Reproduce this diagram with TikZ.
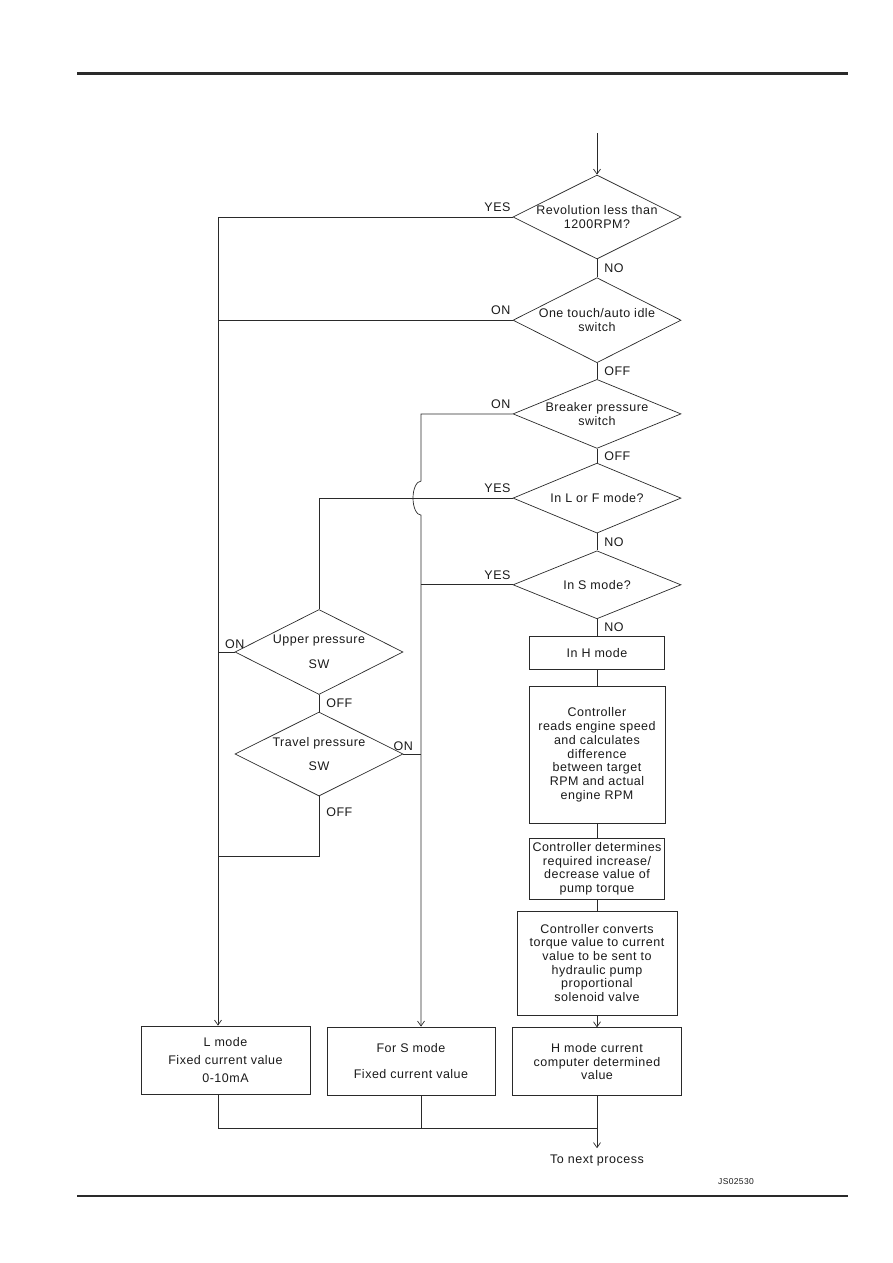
\documentclass[tikz,border=0pt]{standalone}
\usepackage{fontspec}
\setmainfont[LetterSpace=4]{Liberation Sans}
\usetikzlibrary{arrows.meta, positioning, shapes.geometric, calc}
\definecolor{lineDark}{HTML}{2A2A2A}
\definecolor{textDark}{HTML}{1A1A1A}
\tikzset{
  arrowK/.style={-{Straight Barb[length=5pt, width=7pt]}, draw=lineDark, line width=0.7pt},
  lineK/.style={draw=lineDark, line width=0.7pt},
  boxA/.style={rectangle, draw=lineDark, line width=0.8pt, align=center,
               inner sep=0pt, text=textDark},
  diaA/.style={diamond, aspect=2, draw=lineDark, line width=0.7pt, align=center,
               inner xsep=-20pt, inner ysep=0pt, minimum width=168pt,
               minimum height=#1, text=textDark},
  lblA/.style={inner sep=2pt, text=textDark},
  lblR/.style={lblA, right, xshift=5pt},
}
\begin{document}
\begin{tikzpicture}[x=1pt, y=-1pt, font=\fontsize{12.5}{13.7}\selectfont]
  \useasboundingbox (0,0) rectangle (893,1263);
  % page rules
  \draw[line width=3pt, lineDark] (77,73) -- (848,73);
  \draw[line width=2.5pt, lineDark] (77,1196) -- (848,1196);

  % trunks
  \coordinate (start) at (597,133);
  \coordinate (lx) at (218,0);
  \coordinate (mx) at (421,0);
  \coordinate (tbend) at (319,856);
  \coordinate (mrg) at (597,1128);

  % main column
  \node[diaA=84] (rev) at (597,217) {Revolution less than\\1200RPM?};
  \node[diaA=85, below=18pt of rev] (idle) {One touch/auto idle\\switch};
  \node[diaA=69, below=16pt of idle] (brk) {Breaker pressure\\switch};
  \node[diaA=70, below=14pt of brk] (lf) {In L or F mode?};
  \node[diaA=68, below=17pt of lf] (sm) {In S mode?};
  \node[boxA, minimum width=135pt, minimum height=33pt, below=17pt of sm] (hm) {In H mode};
  \node[boxA, minimum width=136pt, minimum height=137pt, below=16pt of hm] (reads)
    {Controller\\reads engine speed\\and calculates\\difference\\between target\\RPM and actual\\engine RPM};
  \node[boxA, minimum width=135pt, minimum height=61pt, below=14pt of reads] (determ)
    {Controller determines\\required increase/\\decrease value of\\pump torque};
  \node[boxA, minimum width=160pt, minimum height=104pt, below=11pt of determ] (conv)
    {Controller converts\\torque value to current\\value to be sent to\\hydraulic pump\\proportional\\solenoid valve};
  \node[boxA, minimum width=169pt, minimum height=68pt, below=12pt of conv] (hbox)
    {H mode current\\computer determined\\value};

  % left side
  \node[diaA=85] (upp) at (319,652) {Upper pressure\\[11pt]SW};
  \node[diaA=84] (trv) at (319,754) {Travel pressure\\[11pt]SW};
  \node[boxA, minimum width=169pt, minimum height=68pt] (lbox) at (225.5,1060)
    {L mode\\[4.5pt]Fixed current value\\[4.5pt]0-10mA};
  \node[boxA, minimum width=168pt, minimum height=68pt] (sbox) at (411,1061)
    {For S mode\\[12pt]Fixed current value};
  \node[lblA] (next) at (597,1160) {To next process};
  \node[lblA, font=\fontsize{8.5}{9}\selectfont] (figid) at (736,1182) {JS02530};

  % branch labels
  \node[lblA, above left=3pt and 0pt of rev.west] (yes1) {YES};
  \node[lblA, above left=3pt and 0pt of idle.west] (on1) {ON};
  \node[lblA, above left=3pt and 0pt of brk.west] (on2) {ON};
  \node[lblA, above left=3pt and 0pt of lf.west] (yes2) {YES};
  \node[lblA, above left=3pt and 0pt of sm.west] (yes3) {YES};
  \node[lblA, above=1pt of upp.west] (on3) {ON};
  \node[lblA, above=1pt of trv.east] (on4) {ON};

  % main flow
  \draw[arrowK] (start) -- (rev.north);
  \draw[lineK] (rev) -- node[lblR] (no1) {NO} (idle);
  \draw[lineK] (idle) -- node[lblR] (off1) {OFF} (brk);
  \draw[lineK] (brk) -- node[lblR] (off2) {OFF} (lf);
  \draw[lineK] (lf) -- node[lblR] (no2) {NO} (sm);
  \draw[lineK] (sm) -- node[lblR] (no3) {NO} (hm);
  \draw[lineK] (hm) -- (reads);
  \draw[lineK] (reads) -- (determ);
  \draw[lineK] (determ) -- (conv);
  \draw[arrowK] (conv) -- (hbox);

  % L mode trunk
  \draw[arrowK] (rev.west) -- (rev.west -| lx) -- (lx |- lbox.north);
  \draw[lineK] (idle.west) -- (idle.west -| lx);
  \draw[lineK] (upp.west) -- (upp.west -| lx);
  \draw[lineK] (lf.west) -| (upp.north);
  \draw[lineK] (upp) -- node[lblR] (off3) {OFF} (trv);
  \draw[lineK] (trv.south) -- node[lblR, pos=0.27] (off4) {OFF} (tbend) -- (tbend -| lx);

  % S mode trunk, hopping over the YES line
  \draw[arrowK] (brk.west) -- (brk.west -| mx) -- ($(mx |- lf.west)+(0,-17)$)
    arc[start angle=90, end angle=270, x radius=8pt, y radius=17pt]
    -- (mx |- sbox.north);
  \draw[lineK] (sm.west) -- (sm.west -| mx);
  \draw[lineK] (trv.east) -- (trv.east -| mx);

  % merge
  \draw[lineK] (lbox.south -| lx) |- (mrg);
  \draw[lineK] (sbox.south -| mx) -- (mx |- mrg);
  \draw[arrowK, shorten >=4pt] (hbox.south) -- (next.north);
\end{tikzpicture}
\end{document}
